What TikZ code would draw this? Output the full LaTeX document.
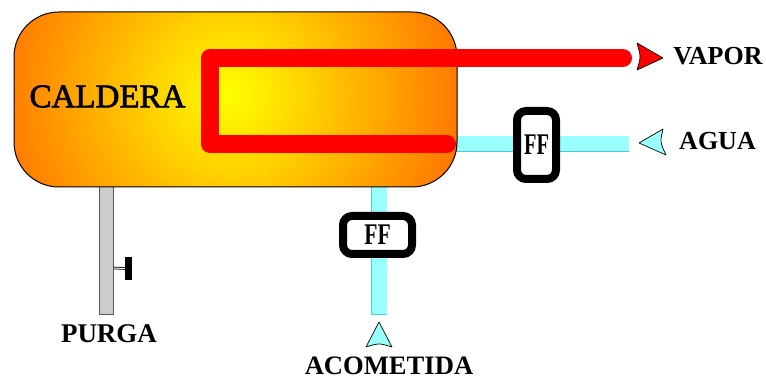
\documentclass[tikz,border=0pt]{standalone}
\usepackage{fontspec}
\setmainfont{Liberation Serif}
\newfontfamily\calderafont[FakeBold=2]{Liberation Serif}
\pgfdeclareradialshading{calor}{\pgfpointorigin}{rgb(0bp)=(1,1,0); rgb(25bp)=(1,0.45,0); rgb(50bp)=(1,0.45,0)}
\begin{document}
\begin{tikzpicture}[x=1pt,y=-1pt,
		caldera node/.style={draw=black,line width=1pt,rounded corners=45,minimum width=443pt,minimum height=175pt,inner sep=0pt},
		valve node/.style={draw=black,fill=white,line width=8pt,rounded corners=9,inner sep=0pt},
		label node/.style={font=\fontsize{26}{26}\selectfont\bfseries,inner sep=0pt},
		water pipe/.style={draw=cyan!70!white,double={rgb,255:red,153;green,255;blue,255},double distance=15pt,line width=0.8pt,line cap=rect},
		purge pipe/.style={draw=black!65,double=black!20,double distance=13.5pt,line width=0.8pt,line cap=rect},
		steam pipe/.style={draw=red,line width=18pt,line cap=round,line join=round},
		head/.style={draw=black,line width=0.7pt,line join=bevel}]
		\useasboundingbox (0,0) rectangle (766,379);
		\coordinate (vaporfin) at (623,58);
		\coordinate (rojoin) at (447,144);
		\coordinate (rojob) at (210,144);
		\coordinate (rojoa) at (210,58);
		\coordinate (aguafin) at (621,144);
		\coordinate (aguain) at (440,144);
		\coordinate (acofin) at (379,307);
		\coordinate (acoin) at (379,170);
		\coordinate (purgafin) at (106.5,307);
		\coordinate (purgain) at (106.5,170);
		\coordinate (vastago) at (114,268);
		% tuberias bajo la caldera
		\draw[water pipe] (aguain) -- (aguafin);
		\draw[water pipe] (acoin) -- (acofin);
		\draw[purge pipe] (purgain) -- (purgafin);
		% caldera
		\node[caldera node,path picture={\shade[shading=calor] (-5.5,-4.5) circle (240pt);}] (caldera) at (235.5,99.5) {};
		\node[font=\fontsize{33}{33}\selectfont\calderafont,inner sep=0pt] (calderatxt) at (107.5,96.5) {CALDERA};
		\draw[steam pipe] (rojoin) -- (rojob) -- (rojoa) -- (vaporfin);
		% valvulas
		\node[valve node,minimum width=39pt,minimum height=68pt] (ffagua) at (536.5,145) {\fontsize{30}{30}\selectfont\bfseries\scalebox{0.68}[1]{FF}};
		\node[valve node,minimum width=69pt,minimum height=38pt] (ffaco) at (377.5,235) {\fontsize{30}{30}\selectfont\bfseries\scalebox{0.72}[1]{FF}};
		% purga
		\node[fill=black,minimum width=7pt,minimum height=23pt,inner sep=0pt] (volante) at (128.5,268.5) {};
		\draw[draw=black,double=white,double distance=1pt,line width=0.8pt] (vastago) -- (volante.west);
		% flechas
		\draw[head,fill=red] (637,43) .. controls (641,57) .. (637,70) -- (663,58) -- cycle;
		\draw[head,fill={rgb,255:red,153;green,255;blue,255}] (663,129) .. controls (660,142) .. (666,155) -- (639,143) -- cycle;
		\draw[head,fill={rgb,255:red,153;green,255;blue,255}] (366,347) .. controls (379,343) .. (392,347) -- (379,322) -- cycle;
		% etiquetas
		\node[label node] (vapor) at (718,56.5) {VAPOR};
		\node[label node] (agua) at (717.5,141) {AGUA};
		\node[label node,font=\fontsize{27}{27}\selectfont\bfseries] (purga) at (109,334) {PURGA};
		\node[label node,font=\fontsize{26.6}{26.6}\selectfont\bfseries] (acometida) at (389,365.5) {ACOMETIDA};
\end{tikzpicture}
\end{document}
